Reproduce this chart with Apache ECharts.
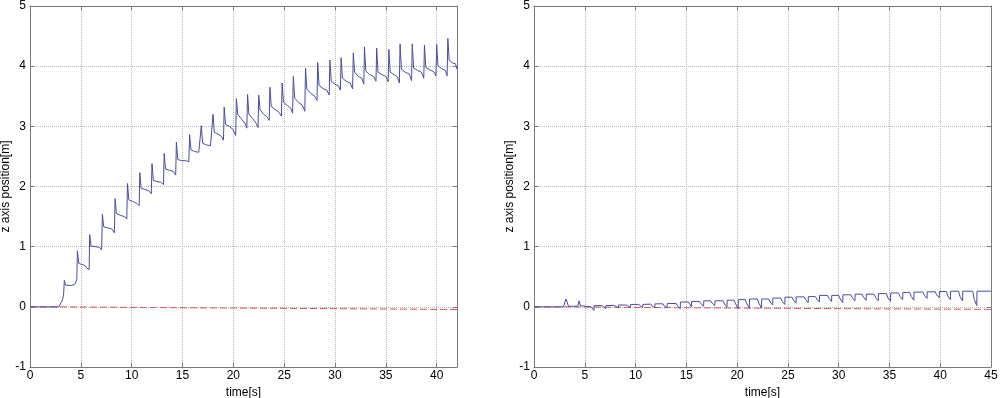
<!DOCTYPE html>
<html>
<head>
<meta charset="utf-8">
<script src="https://cdn.jsdelivr.net/npm/echarts@6/dist/echarts.min.js"></script>
<style>html,body{margin:0;padding:0;background:#fff}#c{width:1000px;height:398px}</style>
</head>
<body>
<div id="c"></div>
<script>
// Tick labels / axis setup
const yTicks = [-1, 0, 1, 2, 3, 4, 5];
const leftXMax = 42;
const rightXMax = 45;
const yName = 'z axis position[m]';
const xName = 'time[s]';

// Left panel: measured z position [t, z]
const leftMeasured = [
 [0,0],[2.85,0],[3.0,0.03],[3.2,0.12],[3.3,0.2],[3.38,0.44],[3.5,0.36],[4.0,0.355],[4.4,0.37],[4.6,0.45],
 [4.66,0.93],[4.8,0.72],[5.2,0.70],[5.45,0.68],[5.6,0.64],[5.82,0.62],
 [5.87,1.2],[6.0,1.01],[6.4,1.0],[6.8,0.99],[7.05,0.95],
 [7.12,1.54],[7.25,1.33],[7.7,1.31],[8.0,1.3],[8.3,1.23],
 [8.37,1.8],[8.5,1.55],[8.9,1.52],[9.3,1.5],[9.52,1.46],
 [9.59,2.05],[9.72,1.78],[10.1,1.75],[10.5,1.72],[10.74,1.68],
 [10.8,2.23],[10.93,1.97],[11.3,1.95],[11.7,1.93],[11.93,1.88],
 [12.0,2.38],[12.13,2.1],[12.5,2.08],[12.9,2.07],[13.13,2.03],
 [13.2,2.55],[13.33,2.29],[13.7,2.27],[14.1,2.25],[14.33,2.19],
 [14.4,2.74],[14.53,2.45],[14.9,2.43],[15.3,2.43],[15.62,2.41],
 [15.7,2.86],[15.83,2.61],[16.2,2.58],[16.6,2.57],[16.78,2.55],
 [16.85,3.01],[16.98,2.72],[17.35,2.69],[17.75,2.68],[17.93,2.65],
 [18.0,3.2],[18.13,2.9],[18.5,2.87],[18.85,2.83],[19.03,2.77],
 [19.1,3.32],[19.23,3.03],[19.6,3.0],[19.95,2.95],[20.23,2.85],
 [20.3,3.46],[20.43,3.2],[20.8,3.12],[21.15,3.05],[21.33,2.97],
 [21.4,3.53],[21.53,3.2],[21.9,3.13],[22.25,3.05],[22.43,2.98],
 [22.5,3.52],[22.63,3.27],[23.0,3.2],[23.35,3.15],[23.53,3.1],
 [23.6,3.65],[23.73,3.33],[24.1,3.28],[24.5,3.23],[24.73,3.17],
 [24.8,3.72],[24.93,3.4],[25.3,3.35],[25.65,3.3],[25.83,3.22],
 [25.9,3.83],[26.03,3.47],[26.4,3.4],[26.8,3.35],[27.03,3.25],
 [27.1,3.97],[27.23,3.62],[27.6,3.55],[28.0,3.5],[28.23,3.43],
 [28.3,4.06],[28.43,3.68],[28.8,3.63],[29.2,3.6],[29.43,3.52],
 [29.5,4.1],[29.63,3.75],[30.0,3.7],[30.35,3.67],[30.53,3.6],
 [30.6,4.14],[30.73,3.8],[31.1,3.75],[31.5,3.72],[31.73,3.62],
 [31.8,4.22],[31.93,3.9],[32.3,3.83],[32.65,3.8],[32.83,3.7],
 [32.9,4.32],[33.03,3.92],[33.4,3.86],[33.8,3.83],[34.03,3.75],
 [34.1,4.3],[34.23,3.9],[34.6,3.86],[35.0,3.83],[35.23,3.74],
 [35.3,4.28],[35.43,3.9],[35.8,3.86],[36.15,3.82],[36.33,3.72],
 [36.4,4.37],[36.53,3.95],[36.9,3.9],[37.3,3.87],[37.53,3.76],
 [37.6,4.37],[37.73,3.97],[38.1,3.93],[38.5,3.9],[38.73,3.8],
 [38.8,4.35],[38.93,3.98],[39.3,3.94],[39.7,3.91],[39.93,3.84],
 [40.0,4.36],[40.13,4.0],[40.5,3.96],[40.85,3.93],[41.03,3.84],
 [41.1,4.46],[41.23,4.1],[41.6,4.05],[41.85,4.04],[42.0,3.95]
];
// Left panel: reference / drift (red dashed)
const leftDrift = [[0,0],[3,0],[10,-0.01],[20,-0.02],[30,-0.03],[42,-0.045]];

// Right panel: measured z position [t, z]
const rightMeasured = [
 [0,0],[2.9,0],[3.05,0.02],[3.15,0.13],[3.3,0.12],[3.4,0.01],[4.3,0.01],[4.45,0.1],[4.55,0.02],[5.0,0.01],[5.6,0.005],[5.9,-0.06],
 [5.92,0.02],[6.7,0.02],[6.85,0.0],[7.06,-0.03],
 [7.08,0.02],[7.9,0.025],[8.05,0.0],[8.3,-0.02],
 [8.32,0.03],[9.1,0.03],[9.25,0.01],[9.5,-0.01],
 [9.52,0.04],[10.3,0.04],[10.45,0.01],[10.7,-0.01],
 [10.72,0.04],[11.5,0.045],[11.65,0.01],[11.9,-0.01],
 [11.92,0.05],[12.7,0.05],[12.85,0.01],[13.1,-0.01],
 [13.12,0.055],[14.0,0.055],[14.15,0.01],[14.4,-0.03],
 [14.42,0.08],[15.2,0.08],[15.3,0.1],[15.38,0.08],[15.5,0.0],
 [15.52,0.09],[16.3,0.09],[16.45,0.05],[16.7,0.01],
 [16.72,0.1],[17.4,0.1],[17.55,0.06],[17.8,0.02],
 [17.82,0.1],[18.6,0.1],[18.75,0.05],[19.0,0.0],
 [19.02,0.11],[19.7,0.11],[19.85,0.05],[20.1,-0.03],
 [20.12,0.12],[20.8,0.12],[20.95,0.05],[21.2,-0.02],
 [21.22,0.13],[22.0,0.13],[22.15,0.06],[22.4,-0.02],
 [22.42,0.13],[23.1,0.13],[23.25,0.08],[23.5,0.03],
 [23.52,0.145],[24.3,0.145],[24.45,0.09],[24.7,0.04],
 [24.72,0.16],[25.4,0.16],[25.55,0.11],[25.8,0.06],
 [25.82,0.165],[26.6,0.165],[26.75,0.12],[27.0,0.07],
 [27.02,0.17],[27.7,0.17],[27.85,0.13],[28.1,0.08],
 [28.12,0.19],[28.9,0.19],[29.05,0.14],[29.3,0.09],
 [29.32,0.19],[30.0,0.19],[30.15,0.13],[30.4,0.07],
 [30.42,0.2],[31.2,0.2],[31.35,0.15],[31.6,0.1],
 [31.62,0.21],[32.3,0.21],[32.45,0.16],[32.7,0.11],
 [32.72,0.21],[33.5,0.21],[33.65,0.15],[33.9,0.1],
 [33.92,0.22],[34.7,0.22],[34.85,0.15],[35.1,0.09],
 [35.12,0.23],[35.9,0.23],[36.05,0.17],[36.3,0.12],
 [36.32,0.24],[37.0,0.24],[37.15,0.17],[37.4,0.11],
 [37.42,0.245],[38.3,0.245],[38.45,0.19],[38.7,0.14],
 [38.72,0.25],[39.5,0.25],[39.65,0.2],[39.9,0.15],
 [39.92,0.255],[40.6,0.255],[40.75,0.18],[41.0,0.12],
 [41.02,0.26],[41.8,0.26],[41.95,0.17],[42.2,0.1],
 [42.22,0.26],[43.2,0.26],[43.35,0.12],[43.6,0.02],
 [43.62,0.26],[45.0,0.26]
];
const rightDrift = [[0,0],[3,0],[10,-0.01],[20,-0.02],[30,-0.03],[45,-0.042]];

const chart = echarts.init(document.getElementById('c'), null, {renderer: 'canvas'});
const font = 'Liberation Sans, Arial, sans-serif';
const frameColor = '#7a7a7a';
const gridColor = '#b8b8b8';

function xAxisCfg(gridIndex, max) {
  return {
    type: 'value', gridIndex, min: 0, max, interval: 5,
    name: xName, nameLocation: 'middle', nameGap: 18,
    nameTextStyle: {color: '#000', fontFamily: font, fontSize: 12},
    axisLine: {show: true, onZero: false, lineStyle: {color: frameColor, width: 1}},
    axisTick: {show: true, inside: true, length: 4, lineStyle: {color: frameColor}},
    axisLabel: {color: '#000', fontFamily: font, fontSize: 12, margin: 3, showMaxLabel: max % 5 === 0},
    splitLine: {show: true, lineStyle: {color: gridColor, type: 'dotted', width: 1}}
  };
}
function xTopCfg(gridIndex, max) {
  return {
    type: 'value', gridIndex, min: 0, max, interval: 5, position: 'top',
    axisLine: {show: true, onZero: false, lineStyle: {color: frameColor, width: 1}},
    axisTick: {show: true, inside: true, length: 4, lineStyle: {color: frameColor}},
    axisLabel: {show: false}, splitLine: {show: false}
  };
}
function yAxisCfg(gridIndex) {
  return {
    type: 'value', gridIndex, min: yTicks[0], max: yTicks[yTicks.length - 1], interval: 1,
    name: yName, nameLocation: 'middle', nameGap: 12,
    nameTextStyle: {color: '#000', fontFamily: font, fontSize: 12},
    axisLine: {show: true, onZero: false, lineStyle: {color: frameColor, width: 1}},
    axisTick: {show: true, inside: true, length: 4, lineStyle: {color: frameColor}},
    axisLabel: {color: '#000', fontFamily: font, fontSize: 12, margin: 4},
    splitLine: {show: true, lineStyle: {color: gridColor, type: 'dotted', width: 1}}
  };
}
function yRightCfg(gridIndex) {
  return {
    type: 'value', gridIndex, min: yTicks[0], max: yTicks[yTicks.length - 1], interval: 1, position: 'right',
    axisLine: {show: true, onZero: false, lineStyle: {color: frameColor, width: 1}},
    axisTick: {show: true, inside: true, length: 4, lineStyle: {color: frameColor}},
    axisLabel: {show: false}, splitLine: {show: false}
  };
}
const lineBlue = '#4c4c9e';
const dashRed = '#cc5a5e';

chart.setOption({
  animation: false,
  backgroundColor: '#fff',
  grid: [
    {left: 30, right: 543, top: 6, bottom: 31, containLabel: false, outerBoundsMode: 'none'},
    {left: 534, right: 9, top: 6, bottom: 31, containLabel: false, outerBoundsMode: 'none'}
  ],
  xAxis: [xAxisCfg(0, leftXMax), xAxisCfg(1, rightXMax), xTopCfg(0, leftXMax), xTopCfg(1, rightXMax)],
  yAxis: [yAxisCfg(0), yAxisCfg(1), yRightCfg(0), yRightCfg(1)],
  series: [
    {type: 'line', xAxisIndex: 0, yAxisIndex: 0, data: leftDrift, showSymbol: false,
     lineStyle: {color: dashRed, width: 1, type: [7, 3]}, z: 2},
    {type: 'line', xAxisIndex: 0, yAxisIndex: 0, data: leftMeasured, showSymbol: false,
     lineStyle: {color: lineBlue, width: 1}, z: 3},
    {type: 'line', xAxisIndex: 1, yAxisIndex: 1, data: rightDrift, showSymbol: false,
     lineStyle: {color: dashRed, width: 1, type: [7, 3]}, z: 2},
    {type: 'line', xAxisIndex: 1, yAxisIndex: 1, data: rightMeasured, showSymbol: false,
     lineStyle: {color: lineBlue, width: 1}, z: 3}
  ]
});
</script>
</body>
</html>
